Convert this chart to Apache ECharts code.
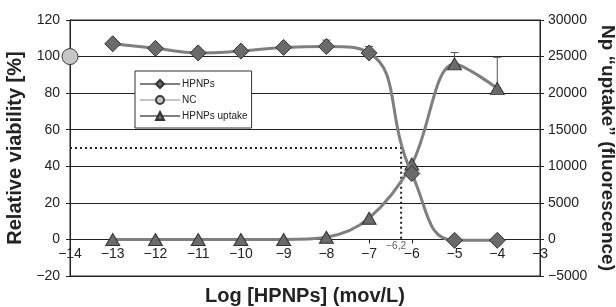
<!DOCTYPE html>
<html>
<head>
<meta charset="utf-8">
<title>HPNPs viability and uptake</title>
<script src="https://cdn.jsdelivr.net/npm/echarts@6/dist/echarts.min.js"></script>
<style>
  html, body { margin: 0; padding: 0; background: #fff; }
  #chart { width: 616px; height: 307px; }
</style>
</head>
<body>
<div id="chart"></div>
<script>
// log concentration (x) for every measured point
const logConc = [-13, -12, -11, -10, -9, -8, -7, -6, -5, -4];
// relative viability [%] of HPNPs (left axis)
const viability = [107, 104.5, 102, 103, 105, 105.5, 102, 36, -0.5, -0.5];
// HPNPs uptake, fluorescence (right axis)
const uptake = [0, 0, 0, 0, 0, 300, 2900, 10300, 24000, 20650];
// negative control
const ncPoint = [-14, 100];
// error bars: [x, value, top]
const viabilityErr = [[-8, 105.5, 109], [-7, 102, 105.5]];
const uptakeErr = [[-5, 24000, 25550], [-4, 20650, 24900]];
// IC50 guide line
const ic50Line = [[-14, 50], [-6.25, 50], [-6.25, 0]];
const ic50Label = '\u22126,2';

const xTicks = { min: -14, max: -3, step: 1 };
const leftTicks = { min: -20, max: 120, step: 20 };
const rightTicks = { min: -5000, max: 30000, step: 5000 };

const minus = v => (v < 0 ? '\u2212' + Math.abs(v) : String(v));

const chart = echarts.init(document.getElementById('chart'));

function errorBar(params, api) {
  const x = api.value(0);
  const low = api.coord([x, api.value(1)]);
  const high = api.coord([x, api.value(2)]);
  const cap = 4;
  const style = { stroke: '#555', lineWidth: 1 };
  return {
    type: 'group',
    children: [
      { type: 'line', shape: { x1: low[0], y1: low[1], x2: high[0], y2: high[1] }, style },
      { type: 'line', shape: { x1: high[0] - cap, y1: high[1], x2: high[0] + cap, y2: high[1] }, style }
    ]
  };
}

const font = 'Liberation Sans, Arial, sans-serif';
const axisText = { color: '#222', fontSize: 14, fontFamily: font };
const nameText = { color: '#222', fontSize: 20, fontWeight: 'bold', fontFamily: font };

// plot box: 70..540 x 20..276, x axis drawn at the zero of the left axis
const gridTop = 20, gridBottom = 31;
const plotH = 307 - gridTop - gridBottom;
const zeroShift = plotH * (0 - leftTicks.min) / (leftTicks.max - leftTicks.min);

const option = {
  animation: false,
  grid: {
    left: 70, right: 76, top: gridTop, bottom: gridBottom,
    outerBoundsMode: 'none',
    containLabel: false,
    show: true, borderColor: '#222', borderWidth: 1
  },
  legend: {
    data: ['HPNPs', 'NC', 'HPNPs uptake'],
    orient: 'vertical',
    left: 135,
    top: 71,
    itemWidth: 40,
    itemHeight: 10,
    itemGap: 6,
    padding: [8, 4, 7, 4],
    backgroundColor: '#fff',
    borderColor: '#333',
    borderWidth: 1,
    borderRadius: 0,
    textStyle: { color: '#222', fontSize: 10, fontFamily: font, padding: [0, 0, 0, -3] }
  },
  xAxis: {
    type: 'value',
    min: xTicks.min,
    max: xTicks.max,
    interval: xTicks.step,
    offset: -zeroShift,
    name: 'Log [HPNPs] (mov/L)',
    nameLocation: 'middle',
    nameGap: 47,
    nameTextStyle: nameText,
    axisLine: { onZero: false, lineStyle: { color: '#222', width: 1 } },
    axisTick: { show: true, length: 4, lineStyle: { color: '#222' } },
    axisLabel: Object.assign({ formatter: minus, margin: 8, showMinLabel: true, showMaxLabel: true }, axisText),
    splitLine: { show: false }
  },
  yAxis: [
    {
      type: 'value',
      min: leftTicks.min,
      max: leftTicks.max,
      interval: leftTicks.step,
      name: 'Relative viability [%]',
      nameLocation: 'middle',
      nameGap: 40,
      nameTextStyle: nameText,
      axisLine: { show: true, onZero: false, lineStyle: { color: '#222', width: 1 } },
      axisTick: { show: true, length: 4, lineStyle: { color: '#222' } },
      axisLabel: Object.assign({ formatter: minus, margin: 10 }, axisText),
      splitLine: { show: true, lineStyle: { color: '#222', width: 1 } }
    },
    {
      type: 'value',
      position: 'right',
      min: rightTicks.min,
      max: rightTicks.max,
      interval: rightTicks.step,
      name: 'Np \u201cuptake\u201d (fluorescence)',
      nameLocation: 'middle',
      nameGap: 55,
      nameRotate: -90,
      nameTextStyle: Object.assign({}, nameText, { fontSize: 19 }),
      axisLine: { show: true, onZero: false, lineStyle: { color: '#222', width: 1 } },
      axisTick: { show: true, length: 4, lineStyle: { color: '#222' } },
      axisLabel: Object.assign({ formatter: minus, margin: 8 }, axisText),
      splitLine: { show: false }
    }
  ],
  series: [
    {
      name: 'IC50',
      type: 'line',
      yAxisIndex: 0,
      data: ic50Line,
      showSymbol: false,
      lineStyle: { color: '#222', width: 2, type: [2, 3] },
      z: 1
    },
    {
      name: 'IC50 label',
      type: 'scatter',
      yAxisIndex: 0,
      data: [ic50Line[ic50Line.length - 1]],
      symbolSize: 1,
      itemStyle: { color: 'rgba(0,0,0,0)' },
      label: {
        show: true,
        position: 'bottom',
        distance: 1,
        offset: [-5, 0],
        formatter: ic50Label,
        color: '#333',
        fontSize: 10,
        fontFamily: font
      }
    },
    {
      name: 'HPNPs uptake',
      type: 'line',
      yAxisIndex: 1,
      smooth: 0.35,
      data: logConc.map((x, i) => [x, uptake[i]]),
      symbol: 'triangle',
      symbolSize: [14, 12],
      lineStyle: { color: '#7f7f7f', width: 3 },
      itemStyle: { color: '#6a6a6a', borderColor: '#333', borderWidth: 1 },
      z: 3
    },
    {
      name: 'HPNPs',
      type: 'line',
      yAxisIndex: 0,
      smooth: 0.5,
      data: logConc.map((x, i) => [x, viability[i]]),
      symbol: 'diamond',
      symbolSize: [16, 16],
      lineStyle: { color: '#7f7f7f', width: 3 },
      itemStyle: { color: '#6a6a6a', borderColor: '#333', borderWidth: 1 },
      z: 4
    },
    {
      name: 'NC',
      type: 'line',
      yAxisIndex: 0,
      data: [ncPoint],
      symbol: 'circle',
      symbolSize: 16,
      lineStyle: { color: '#c4c4c4', width: 3 },
      itemStyle: { color: '#c6c6c6', borderColor: '#3c3c3c', borderWidth: 1 },
      z: 5
    },
    {
      type: 'custom',
      yAxisIndex: 0,
      renderItem: errorBar,
      data: viabilityErr,
      encode: { x: 0, y: [1, 2] },
      z: 2
    },
    {
      type: 'custom',
      yAxisIndex: 1,
      renderItem: errorBar,
      data: uptakeErr,
      encode: { x: 0, y: [1, 2] },
      z: 2
    }
  ]
};

chart.setOption(option);
</script>
</body>
</html>
